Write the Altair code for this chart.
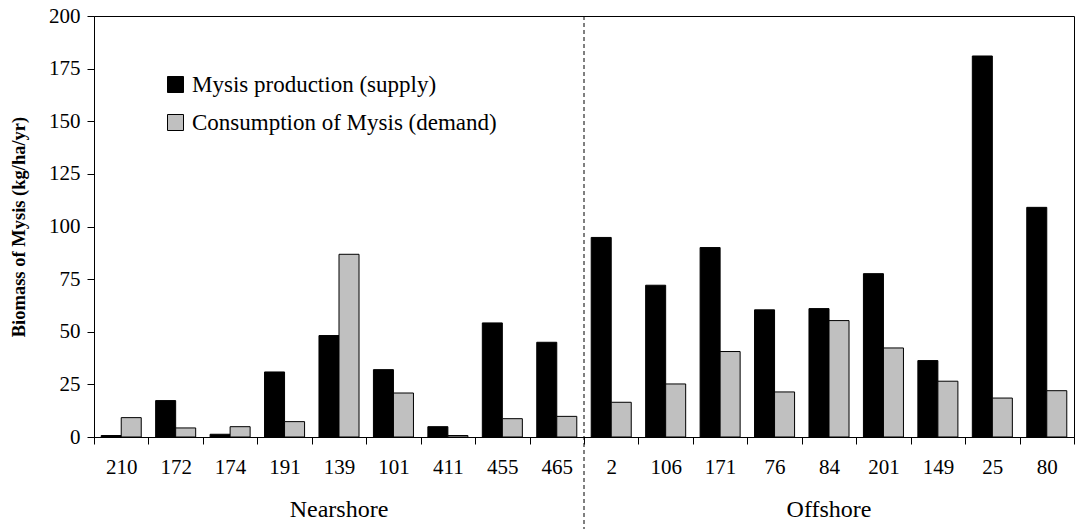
import altair as alt
import pandas as pd

# Sampling sites, in plotting order (nearshore first, then offshore)
sites = ["210", "172", "174", "191", "139", "101", "411", "455", "465",
         "2", "106", "171", "76", "84", "201", "149", "25", "80"]

# Mysis production (supply), kg/ha/yr
supply = [0.7, 17.3, 1.3, 30.9, 48.2, 32.0, 4.9, 54.2, 45.0,
          94.8, 72.1, 90.0, 60.4, 61.0, 77.6, 36.3, 181.0, 109.1]

# Consumption of Mysis by fish (demand), kg/ha/yr
demand = [9.2, 4.3, 4.9, 7.3, 86.8, 20.9, 0.7, 8.7, 9.8,
          16.5, 25.2, 40.6, 21.4, 55.3, 42.3, 26.5, 18.5, 22.0]

series = ["Mysis production (supply)", "Consumption of Mysis (demand)"]
series_colors = ["#000000", "#c0c0c0"]

# Zone labels, each centred under the middle site of its zone
zones = ["Nearshore", "Offshore"]
zone_mid_site = ["139", "84"]

# First offshore site: the zone divider is drawn at its left band edge
divider_site = ["2"]

y_ticks = [0, 25, 50, 75, 100, 125, 150, 175, 200]

FONT = "Liberation Serif"
W, H = 980, 421

rows = []
for s, a, b in zip(sites, supply, demand):
    rows.append({"site": s, "series": series[0], "value": a})
    rows.append({"site": s, "series": series[1], "value": b})
bars_df = pd.DataFrame(rows)

x_scale = alt.Scale(domain=sites, paddingInner=0, paddingOuter=0)
x_axis = alt.Axis(
    title=None, labelAngle=0, tickBand="extent", tickSize=7,
    labelPadding=12, labelFont=FONT, labelFontSize=21, labelColor="black",
    domainColor="black", tickColor="black", grid=False,
)


def x_enc(**kw):
    return alt.X("site:N", sort=sites, scale=x_scale, axis=x_axis, **kw)


bars = alt.Chart(bars_df).mark_bar(stroke="black", strokeWidth=1).encode(
    x=x_enc(),
    xOffset=alt.XOffset(
        "series:N", sort=series,
        scale=alt.Scale(domain=series, paddingInner=0, paddingOuter=0.36),
    ),
    y=alt.Y(
        "value:Q",
        scale=alt.Scale(domain=[0, 200], nice=False),
        axis=alt.Axis(
            values=y_ticks, title="Biomass of Mysis (kg/ha/yr)",
            titleFont=FONT, titleFontSize=18.5, titleFontWeight="bold",
            titleColor="black", titlePadding=20,
            labelFont=FONT, labelFontSize=21, labelColor="black",
            labelPadding=7, tickSize=7, tickColor="black",
            domainColor="black", grid=False,
        ),
    ),
    color=alt.Color(
        "series:N", sort=series,
        scale=alt.Scale(domain=series, range=series_colors),
        legend=alt.Legend(
            title=None, orient="none", legendX=70, legendY=57,
            padding=0, symbolType="square", symbolSize=256,
            symbolStrokeColor="black", symbolStrokeWidth=1,
            symbolOpacity=1,
            labelFont=FONT, labelFontSize=23, labelColor="black",
            labelOffset=5, labelLimit=0, rowPadding=14,
        ),
    ),
)

divider = alt.Chart(pd.DataFrame({"site": divider_site})).mark_rule(
    color="black", strokeWidth=1, strokeDash=[4, 3]
).encode(
    x=x_enc(bandPosition=0),
    y=alt.value(0),
    y2=alt.value(H + 92),
)

zone_labels = alt.Chart(
    pd.DataFrame({"site": zone_mid_site, "zone": zones})
).mark_text(font=FONT, fontSize=24, color="black", baseline="middle").encode(
    x=x_enc(),
    y=alt.value(H + 73),
    text="zone:N",
)

chart = (
    alt.layer(bars, divider, zone_labels)
    .properties(
        width=W, height=H,
        autosize=alt.AutoSizeParams(type="none"),
        padding={"left": 94, "top": 16, "right": 4, "bottom": 92},
        background="white",
    )
    .configure_view(stroke="black", strokeWidth=1)
)

chart.save("out.html", embed_options={"renderer": "svg", "actions": False})
